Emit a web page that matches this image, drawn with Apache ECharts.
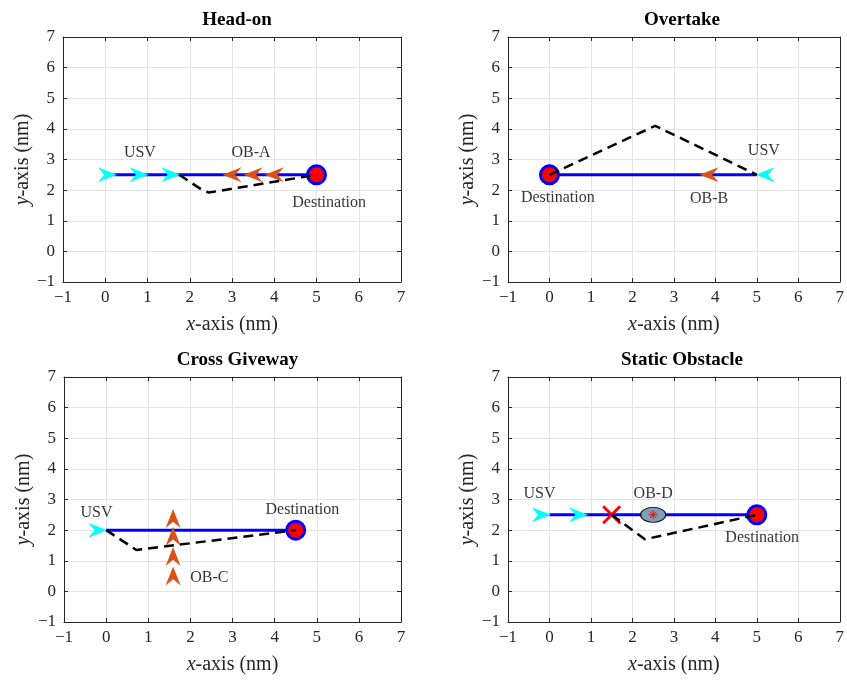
<!DOCTYPE html>
<html>
<head>
<meta charset="utf-8">
<script src="https://cdn.jsdelivr.net/npm/echarts@6/dist/echarts.min.js"></script>
<style>html,body{margin:0;padding:0;background:#fff}#c{width:847px;height:684px}</style>
</head>
<body>
<div id="c"></div>
<script>
// ---------- data ----------
const titles = ['Head-on', 'Overtake', 'Cross Giveway', 'Static Obstacle'];
const axisMin = -1, axisMax = 7, axisStep = 1;

// Head-on
const headRoute = [[0.2, 2.5], [5, 2.5]];
const headUsvArrows = [[0.05, 2.5], [0.8, 2.5], [1.55, 2.5]];
const headObArrows = [[3.0, 2.5], [3.5, 2.5], [4.0, 2.5]];
const headTraj = [[1.75, 2.5], [2.3, 2.0], [2.45, 1.92], [5, 2.5]];
const headDest = [[5, 2.5]];
const headLabels = [['USV', 0.82, 3.22], ['OB-A', 3.45, 3.22], ['Destination', 5.3, 1.57]];

// Overtake
const overRoute = [[0, 2.5], [5, 2.5]];
const overUsvArrows = [[5.2, 2.5]];
const overObArrows = [[3.85, 2.5]];
const overTraj = [[0, 2.5], [2.55, 4.1], [5, 2.5]];
const overDest = [[0, 2.5]];
const overLabels = [['USV', 5.17, 3.3], ['OB-B', 3.85, 1.73], ['Destination', 0.2, 1.76]];

// Cross Giveway
const crossRoute = [[0, 2.0], [4.5, 2.0]];
const crossUsvArrows = [[-0.2, 2.0]];
const crossObArrows = [[1.59, 2.38], [1.59, 1.8], [1.59, 1.14], [1.59, 0.5]];
const crossTraj = [[0, 2.0], [0.72, 1.35], [4.5, 2.0]];
const crossDest = [[4.5, 2.0]];
const crossLabels = [['USV', -0.23, 2.58], ['Destination', 4.66, 2.67], ['OB-C', 2.45, 0.44]];

// Static Obstacle
const staticRoute = [[0, 2.5], [5, 2.5]];
const staticUsvArrows = [[-0.2, 2.5], [0.7, 2.5]];
const staticCross = [[1.5, 2.5]];
const staticObstacle = [[2.5, 2.5]];
const staticTraj = [[1.5, 2.5], [2.3, 1.7], [5, 2.5]];
const staticDest = [[5, 2.5]];
const staticLabels = [['USV', -0.24, 3.2], ['OB-D', 2.5, 3.2], ['Destination', 5.13, 1.74]];

// ---------- style ----------
const FONT = 'Liberation Serif';
const AX = '#262626';
const CYAN = '#00FFFF', ORANGE = '#D95319', BLUE = '#0000FF', RED = '#FF0000';
const ARROW_R = 'path://M0,0 L18,7 L0,14 L6,7 Z';
const ARROW_L = 'path://M18,0 L0,7 L18,14 L12,7 Z';
const ARROW_U = 'path://M0,18 L7,0 L14,18 L7,12 Z';
const XMARK = 'path://M0,0 L10,10 M10,0 L0,10';
const STAR = 'path://M5,0 L5,10 M0,5 L10,5 M1.5,1.5 L8.5,8.5 M8.5,1.5 L1.5,8.5';

const grids = [
  {left: 63, top: 37, width: 338, height: 245},
  {left: 508, top: 37, width: 338, height: 245},
  {left: 64, top: 377, width: 337, height: 245},
  {left: 508, top: 377, width: 338, height: 245}
];

const fmt = v => String(v).replace('-', '\u2212');

const xAxes = [], yAxes = [];
grids.forEach((g, i) => {
  xAxes.push({
    gridIndex: i, type: 'value', min: axisMin, max: axisMax, interval: axisStep,
    name: '{i|x}-axis (nm)', nameLocation: 'middle', nameGap: 33,
    nameTextStyle: {fontFamily: FONT, fontSize: 20, color: AX, rich: {i: {fontFamily: FONT, fontSize: 20, fontStyle: 'italic', color: AX}}},
    axisLine: {show: true, onZero: false, lineStyle: {color: AX, width: 1}},
    axisTick: {show: true, inside: true, length: 4, lineStyle: {color: AX}},
    axisLabel: {fontFamily: FONT, fontSize: 17, color: AX, margin: 7, formatter: fmt},
    splitLine: {show: true, lineStyle: {color: '#e3e3e3', width: 1}}
  });
  yAxes.push({
    gridIndex: i, type: 'value', min: axisMin, max: axisMax, interval: axisStep,
    name: '{i|y}-axis (nm)', nameLocation: 'middle', nameGap: 21,
    nameTextStyle: {fontFamily: FONT, fontSize: 20, color: AX, rich: {i: {fontFamily: FONT, fontSize: 20, fontStyle: 'italic', color: AX}}},
    axisLine: {show: true, onZero: false, lineStyle: {color: AX, width: 1}},
    axisTick: {show: true, inside: true, length: 4, lineStyle: {color: AX}},
    axisLabel: {fontFamily: FONT, fontSize: 17, color: AX, margin: 8, formatter: fmt},
    splitLine: {show: true, lineStyle: {color: '#e3e3e3', width: 1}}
  });
});
grids.forEach((g, i) => {
  xAxes.push({
    gridIndex: i, type: 'value', position: 'top', min: axisMin, max: axisMax, interval: axisStep,
    axisLine: {show: true, onZero: false, lineStyle: {color: AX, width: 1}},
    axisTick: {show: true, inside: true, length: 4, lineStyle: {color: AX}},
    axisLabel: {show: false}, splitLine: {show: false}
  });
  yAxes.push({
    gridIndex: i, type: 'value', position: 'right', min: axisMin, max: axisMax, interval: axisStep,
    axisLine: {show: true, onZero: false, lineStyle: {color: AX, width: 1}},
    axisTick: {show: true, inside: true, length: 4, lineStyle: {color: AX}},
    axisLabel: {show: false}, splitLine: {show: false}
  });
});

const series = [];
function ax(i) { return {xAxisIndex: i, yAxisIndex: i}; }
function route(i, d) {
  series.push(Object.assign({type: 'line', data: d, symbol: 'none', z: 2,
    lineStyle: {color: BLUE, width: 3}, animation: false}, ax(i)));
}
function traj(i, d) {
  series.push(Object.assign({type: 'line', data: d, symbol: 'none', z: 6,
    lineStyle: {color: '#000', width: 2.5, type: [10, 6]}, animation: false}, ax(i)));
}
function marks(i, d, sym, size, color, z) {
  series.push(Object.assign({type: 'scatter', data: d, symbol: sym, symbolSize: size, z: z || 4,
    itemStyle: {color: color, opacity: 1}, animation: false, silent: true}, ax(i)));
}
function dest(i, d) {
  series.push(Object.assign({type: 'scatter', data: d, symbol: 'circle', symbolSize: 18, z: 5,
    itemStyle: {color: RED, borderColor: BLUE, borderWidth: 3, opacity: 1}, animation: false}, ax(i)));
}
function labels(i, arr) {
  series.push(Object.assign({type: 'scatter', symbolSize: 0, z: 7, animation: false,
    data: arr.map(a => ({name: a[0], value: [a[1], a[2]]})),
    label: {show: true, position: 'inside', formatter: p => p.name,
      fontFamily: FONT, fontSize: 16, color: '#000', textBorderWidth: 0}}, ax(i)));
}

// Head-on
route(0, headRoute);
dest(0, headDest);
marks(0, headUsvArrows, ARROW_R, [19, 15], CYAN);
marks(0, headObArrows, ARROW_L, [19, 15], ORANGE);
traj(0, headTraj);
labels(0, headLabels);

// Overtake
route(1, overRoute);
dest(1, overDest);
marks(1, overUsvArrows, ARROW_L, [19, 15], CYAN);
marks(1, overObArrows, ARROW_L, [19, 15], ORANGE);
traj(1, overTraj);
labels(1, overLabels);

// Cross Giveway
route(2, crossRoute);
dest(2, crossDest);
marks(2, crossUsvArrows, ARROW_R, [19, 15], CYAN);
marks(2, crossObArrows, ARROW_U, [15, 19], ORANGE);
traj(2, crossTraj);
labels(2, crossLabels);

// Static Obstacle
route(3, staticRoute);
dest(3, staticDest);
marks(3, staticUsvArrows, ARROW_R, [19, 15], CYAN);
series.push(Object.assign({type: 'scatter', data: staticObstacle, symbol: 'circle', symbolSize: [25, 15], z: 4,
  itemStyle: {color: '#7f9fb8', borderColor: '#000', borderWidth: 1, opacity: 1}, animation: false}, ax(3)));
series.push(Object.assign({type: 'scatter', data: staticObstacle, symbol: STAR, symbolSize: 9, z: 5,
  itemStyle: {color: 'none', borderColor: RED, borderWidth: 1, opacity: 1}, animation: false}, ax(3)));
series.push(Object.assign({type: 'scatter', data: staticCross, symbol: XMARK, symbolSize: 17, z: 5,
  itemStyle: {color: 'none', borderColor: RED, borderWidth: 3, opacity: 1}, animation: false}, ax(3)));
traj(3, staticTraj);
labels(3, staticLabels);

const titleCfg = titles.map((t, i) => ({
  text: t, left: grids[i].left + grids[i].width / 2, top: grids[i].top - 31, textAlign: 'center',
  textStyle: {fontFamily: FONT, fontSize: 19, fontWeight: 'bold', color: '#000'}
}));

const chart = echarts.init(document.getElementById('c'), null, {renderer: 'canvas'});
chart.setOption({
  backgroundColor: '#fff',
  animation: false,
  title: titleCfg,
  grid: grids,
  xAxis: xAxes,
  yAxis: yAxes,
  series: series
});
</script>
</body>
</html>
